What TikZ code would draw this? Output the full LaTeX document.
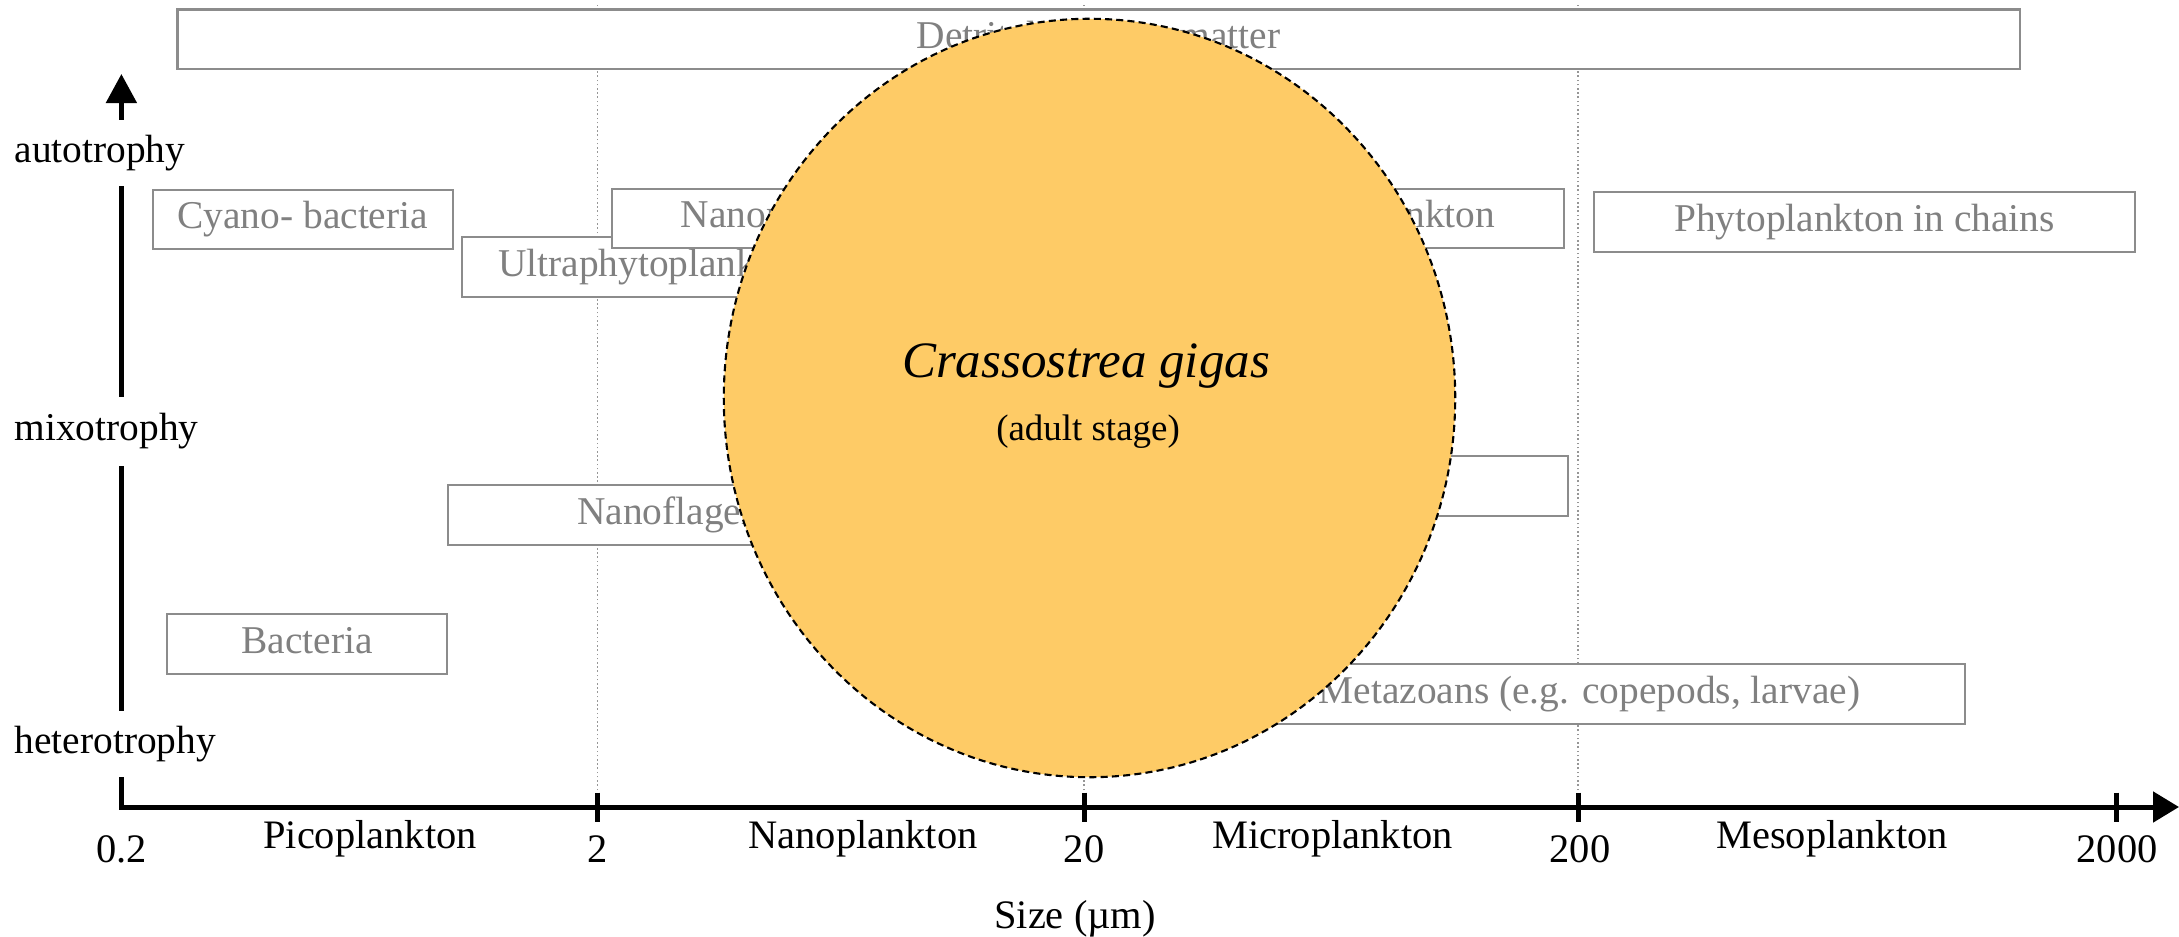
\documentclass[tikz,border=0pt]{standalone}
\usepackage{fontspec}
\setmainfont{Liberation Serif}
\usetikzlibrary{arrows.meta,shapes.geometric,calc}
\definecolor{oyster}{RGB}{254,203,102}
\definecolor{boxgray}{RGB}{140,140,140}
\definecolor{txtgray}{RGB}{128,128,128}
\definecolor{guidegray}{RGB}{150,150,150}
\newcommand{\mainsize}{\fontsize{11.5}{13}\selectfont}
\newcommand{\boxsize}{\fontsize{11.2}{13}\selectfont}
\begin{document}
\begin{tikzpicture}[x=0.01cm,y=-0.01cm,
  catbox/.style={draw=boxgray, line width=0.6pt, fill=white, text=txtgray,
    font=\boxsize, inner xsep=0pt, inner ysep=0pt,
    text height=0.28cm, text depth=0.1cm},
  axislabel/.style={fill=white, font=\boxsize, inner xsep=0pt, inner ysep=0pt,
    text height=0.28cm, text depth=0.1cm, anchor=west},
  xlabel/.style={font=\mainsize, anchor=base, inner sep=0pt},
  axisline/.style={line width=1.42pt, line join=miter},
  tickline/.style={line width=1.42pt},
  guide/.style={guidegray, line width=0.4pt, dash pattern=on 0.45pt off 0.75pt},
  oysterblob/.style={ellipse, fill=oyster, draw=black, line width=0.6pt,
    dash pattern=on 2pt off 1.2pt, inner sep=0pt}]
\useasboundingbox (0,0) rectangle (2179,937);
% axis coordinates
\coordinate (o) at (121.4,807);
\coordinate (ytip) at (121.4,74);
\coordinate (xtip) at (2179,807);
\coordinate (t2) at (597.7,807);
\coordinate (t20) at (1084,807);
\coordinate (t200) at (1578,807);
\coordinate (t2000) at (2116,807);
% guide lines
\foreach \t in {t2,t20,t200} \draw[guide] (\t) -- ++(0,-802);
% boxes
\node[catbox, minimum width=18.41cm, minimum height=0.595cm] (det) at (1098.5,39.25)
  {\makebox[3.63cm][s]{Detrital organic matter}};
\node[catbox, minimum width=2.995cm, minimum height=0.59cm] (cyano) at (302.75,219.5) {Cyano- bacteria};
\node[catbox, anchor=west, inner xsep=0.36cm, minimum height=0.60cm] (ultra) at (461,267) {Ultraphytoplankton};
\node[catbox, minimum width=9.52cm, minimum height=0.59cm] (nano) at (1088,218.5)
  {\makebox[8.14cm][s]{Nanophytoplankton and microphytoplankton}};
\node[catbox, minimum width=5.41cm, minimum height=0.60cm] (chains) at (1864.5,222) {Phytoplankton in chains};
\node[catbox, anchor=west, inner xsep=1.29cm, minimum height=0.60cm] (nanoflag) at (447,515) {Nanoflagellates};
\node[catbox, minimum width=4.38cm, minimum height=0.60cm] (mixo) at (1349,486) {};
\node[catbox, minimum width=2.80cm, minimum height=0.60cm] (bact) at (307,644) {Bacteria};
\node[catbox, minimum width=7.51cm, minimum height=0.60cm] (meta) at (1589.5,694) {Metazoans (e.g. copepods, larvae)};
% oyster
\node[oysterblob, minimum width=7.31cm, minimum height=7.58cm] (oyster) at (1089.5,398) {};
\node[font=\fontsize{14.5}{17}\selectfont\itshape, anchor=base, inner sep=0pt] (species) at (1086,378) {Crassostrea gigas};
\node[font=\fontsize{10.5}{12}\selectfont, anchor=base, inner sep=0pt] (stage) at (1088,440) {(adult stage)};
% axes
\draw[axisline, {Triangle[length=0.29cm,width=0.30cm]}-{Triangle[length=0.26cm,width=0.30cm]}] (ytip) -- (o) -- (xtip);
\foreach \t in {t2,t20,t200,t2000} \draw[tickline] ($(\t)+(0,-14.5)$) -- ($(\t)+(0,14.5)$);
% y labels
\node[axislabel, minimum height=0.65cm] (auto) at (14,153) {autotrophy};
\node[axislabel, minimum height=0.69cm] (mixl) at (14,431.5) {mixotrophy};
\node[axislabel, minimum height=0.66cm] (hetl) at (14,744) {heterotrophy};
% x labels
\node[xlabel] (n02) at (121.5,862) {0.2};
\node[xlabel] (pico) at (370,848) {Picoplankton};
\node[xlabel] (n2) at (598,862) {2};
\node[xlabel] (nanop) at (863,848) {Nanoplankton};
\node[xlabel] (n20) at (1084,862) {20};
\node[xlabel] (micro) at (1332.5,848) {Microplankton};
\node[xlabel] (n200) at (1580,862) {200};
\node[xlabel] (meso) at (1832,848) {Mesoplankton};
\node[xlabel] (n2000) at (2117,862) {2000};
\node[xlabel] (size) at (1075,928) {Size (µm)};
\end{tikzpicture}
\end{document}
